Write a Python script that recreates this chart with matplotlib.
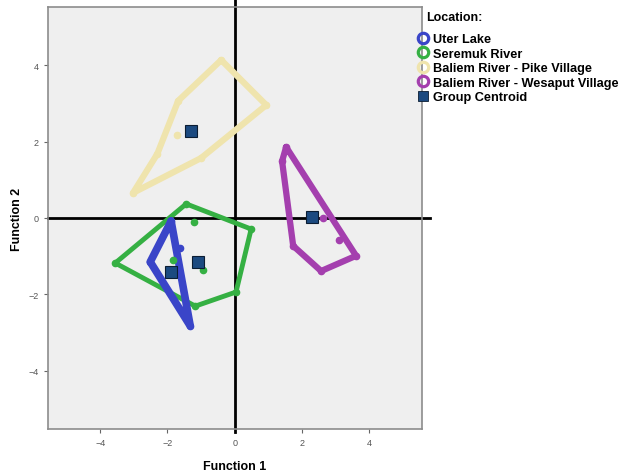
import matplotlib
matplotlib.use("Agg")
import matplotlib.pyplot as plt
from matplotlib.lines import Line2D

plt.rcParams['font.family'] = ['Liberation Sans', 'DejaVu Sans']

# ---- data (discriminant function scores) ----
groups = ["Uter Lake", "Seremuk River", "Baliem River - Pike Village", "Baliem River - Wesaput Village"]
colors = ["#3a45c8", "#35b043", "#efe4ad", "#a43fae"]
line_w = [5.5, 3.5, 4.5, 4.5]

# hull points (in drawing order) for each group
uter_hull_x = [-1.89, -2.51, -1.32]
uter_hull_y = [-0.08, -1.15, -2.83]
uter_in_x = [-1.62]
uter_in_y = [-0.79]

ser_hull_x = [-1.44, 0.49, 0.04, -1.17, -3.55]
ser_hull_y = [0.37, -0.29, -1.94, -2.31, -1.18]
ser_in_x = [-1.20, -1.82, -0.93]
ser_in_y = [-0.11, -1.10, -1.36]

pike_hull_x = [-0.40, 0.94, -1.00, -3.02, -2.30, -1.68]
pike_hull_y = [4.14, 2.96, 1.57, 0.66, 1.68, 3.07]
pike_in_x = [-1.71]
pike_in_y = [2.18]

wes_hull_x = [1.53, 3.61, 2.57, 1.74, 1.41]
wes_hull_y = [1.86, -0.99, -1.39, -0.73, 1.49]
wes_in_x = [2.63, 3.10]
wes_in_y = [0.00, -0.58]

centroid_x = [-1.89, -1.08, -1.29, 2.30]
centroid_y = [-1.42, -1.15, 2.28, 0.02]

hulls = [(uter_hull_x, uter_hull_y, uter_in_x, uter_in_y),
         (ser_hull_x, ser_hull_y, ser_in_x, ser_in_y),
         (pike_hull_x, pike_hull_y, pike_in_x, pike_in_y),
         (wes_hull_x, wes_hull_y, wes_in_x, wes_in_y)]

xticks = [-4, -2, 0, 2, 4]
yticks = [-4, -2, 0, 2, 4]

fig = plt.figure(figsize=(6.31, 4.77), dpi=100)
fig.patch.set_facecolor("white")
ax = fig.add_axes([48/631, 1-430/477, (422-48)/631, (430-8)/477])
ax.set_facecolor("#efefef")
ax.set_xlim(-5.55, 5.57)
ax.set_ylim(-5.53, 5.53)

# reference lines
ax.axvline(0, ymin=-0.008, ymax=1.02, color="black", lw=2, clip_on=False, zorder=2)
ax.axhline(0, xmin=0, xmax=1.022, color="black", lw=2, clip_on=False, zorder=2)

# draw order: pike, seremuk, wesaput, uter
for i in [2, 1, 3, 0]:
    hx, hy, ix, iy = hulls[i]
    ax.plot(hx + hx[:1], hy + hy[:1], color=colors[i], lw=line_w[i],
            solid_joinstyle="round", solid_capstyle="round", zorder=3)
    ax.plot(hx + ix, hy + iy, "o", color=colors[i], ms=4.5, mec=colors[i], zorder=4)

ax.plot(centroid_x, centroid_y, "s", color="#1c4a80", mec="#0b1d33", mew=0.8, ms=8, zorder=5)

ax.set_xticks(xticks)
ax.set_yticks(yticks)
ax.tick_params(axis="both", labelsize=6.5, labelcolor="#555555", color="#666666", length=3, width=0.8)
for sp in ax.spines.values():
    sp.set_color("#8c8c8c")
    sp.set_linewidth(1.2)

ax.set_xlabel("Function 1", fontsize=9, fontweight="bold")
ax.set_ylabel("Function 2", fontsize=9, fontweight="bold")
ax.xaxis.set_label_coords(0.5, -(467 - 430) / 422, transform=ax.transAxes)
ax.yaxis.set_label_coords((17 - 48) / 374, 0.5, transform=ax.transAxes)
ax.xaxis.label.set_va("center")
ax.yaxis.label.set_va("center")

fig.text(426/631, 1-18/477, "Location:", fontsize=9, fontweight="bold", va="center", ha="left")

handles = [Line2D([], [], ls="none", marker="o", ms=7.5, mfc="none", mec=c, mew=2.3) for c in colors]
handles.append(Line2D([], [], ls="none", marker="s", ms=7.5, mfc="#1c4a80", mec="#0b1d33", mew=0.6))
leg = fig.legend(handles, groups + ["Group Centroid"],
                 loc="upper left", bbox_to_anchor=(417/631, 1-33/477),
                 frameon=False, handletextpad=0.35, labelspacing=0.2,
                 borderaxespad=0, handlelength=0.8, borderpad=0.1,
                 prop={"weight": "bold", "size": 9.2})

fig.savefig("out.png", dpi=100)
